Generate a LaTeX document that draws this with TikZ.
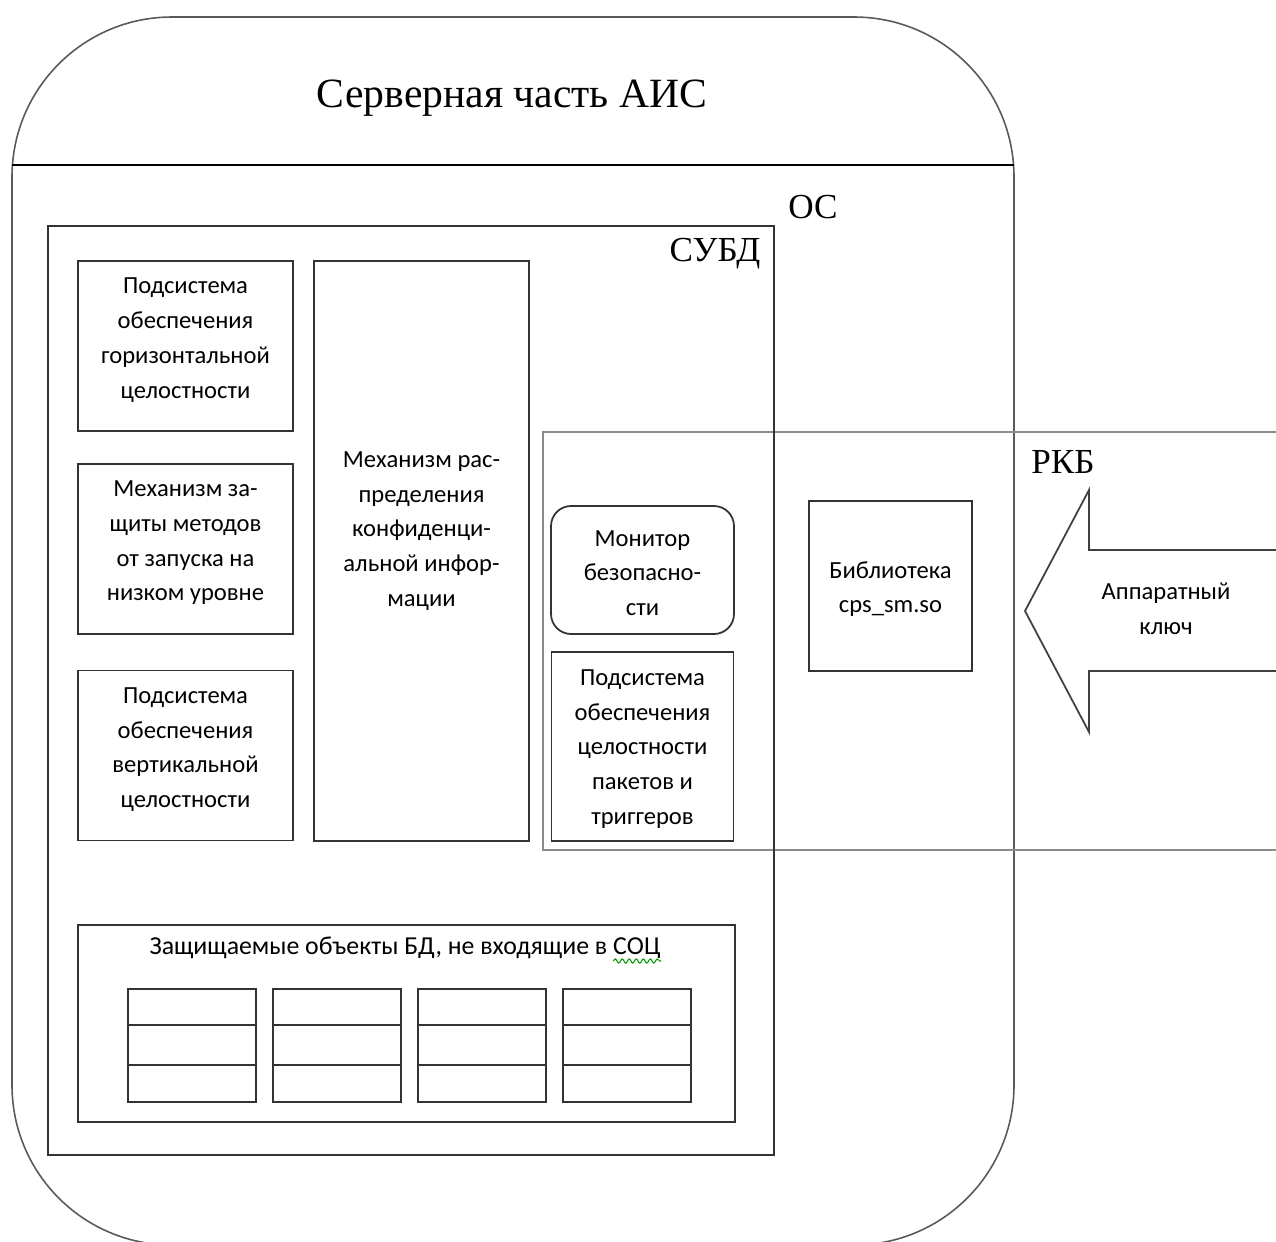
\documentclass[tikz,border=0pt]{standalone}
\usepackage{fontspec}
\setmainfont{Liberation Serif}
\newfontfamily\boxfont{Carlito}
\usepackage{tikz}
\usetikzlibrary{positioning}
\usetikzlibrary{decorations.pathmorphing}

\begin{document}
\begin{tikzpicture}[x=0.02cm, y=-0.02cm,
subnode/.style={rectangle, draw=black!80, line width=1pt, minimum width=4.3cm, minimum height=3.4cm,
align=center, inner sep=0pt, font=\boxfont\fontsize{14}{19.8}\selectfont,
},
leftnode/.style={subnode, text depth=9pt,
},
textnode/.style={align=center, inner sep=0pt, font=\boxfont\fontsize{14}{19.8}\selectfont,
},
headnode/.style={inner sep=0pt, font=\fontsize{20}{24}\selectfont,
},
framenode/.style={draw=black!80, line width=1pt,
}]
\useasboundingbox (0,0) rectangle (1276,1242);
\clip (0,0) rectangle (1276,1242);
%Frames
\draw[draw=black!65, line width=0.9pt, rounded corners=3.2cm] (12,17) rectangle (1014,1245);
\draw[line width=0.8pt] (12,165) -- (1014,165);
\draw[draw=black!45, line width=0.8pt] (543,432) rectangle (1300,850);
\draw[framenode] (48,226) rectangle (774,1155);
%Nodes
\node[inner sep=0pt, font=\fontsize{23.7}{28}\selectfont] (title) at (512,98) {Серверная часть АИС};
\node[headnode] (os)   at (813,207) {ОС};
\node[headnode] (subd) at (715,254) {СУБД};
\node[headnode] (rkb)  at (1063,462) {РКБ};
\node[leftnode] (horiz)   at (185.5,346) {Подсистема\\обеспечения\\горизонтальной\\целостности};
\node[leftnode] (methods) [below=0.62cm of horiz] {Механизм за-\\щиты методов\\от запуска на\\низком уровне};
\node[leftnode] (vert)    [below=0.7cm of methods] {Подсистема\\обеспечения\\вертикальной\\целостности};
\node[subnode, minimum height=11.6cm] (distrib) at (421.5,551) {};
\node[textnode] (distribtext) at (421.5,531) {Механизм рас-\\пределения\\конфиденци-\\альной инфор-\\мации};
\node[subnode, rounded corners=0.4cm, minimum width=3.66cm, minimum height=2.56cm] (monitor) at (642.5,570) {\rule{0pt}{12.5pt}Монитор\\безопасно-\\сти};
\node[subnode, minimum width=3.64cm, minimum height=3.78cm] (packets) [below=0.32cm of monitor] {\rule{0pt}{12pt}Подсистема\\обеспечения\\целостности\\пакетов и\\триггеров};
\node[subnode, minimum width=3.26cm, minimum height=3.4cm] (library) at (890.5,586) {\rule{0pt}{13pt}Библиотека\\cps\_sm.so};
\node[subnode, minimum width=13.14cm, minimum height=3.94cm] (objects) at (406.5,1023.5) {};
\node[textnode, font=\boxfont\fontsize{14.7}{19.8}\selectfont] (objtitle) at (405,948) {Защищаемые объекты БД, не входящие в СОЦ};
\node[textnode] (keytext) at (1166,609) {Аппаратный\\ключ};
%Tables
\foreach \tx in {128,273,418,563}{
  \draw[framenode] (\tx,989) rectangle ++(128,113);
  \draw[framenode] (\tx,1025) -- ++(128,0);
  \draw[framenode] (\tx,1065) -- ++(128,0);
}
%Lines
\draw[draw=black!75, line width=1pt] (1300,550) -- (1089,550) -- (1089,490) -- (1025,611)
  -- (1089,732) -- (1089,671) -- (1300,671);
\draw[green!60!black, line width=0.6pt, decorate, decoration={snake, amplitude=1.2pt, segment length=4pt}]
  (613,961) -- (661,961);
\end{tikzpicture}
\end{document}
